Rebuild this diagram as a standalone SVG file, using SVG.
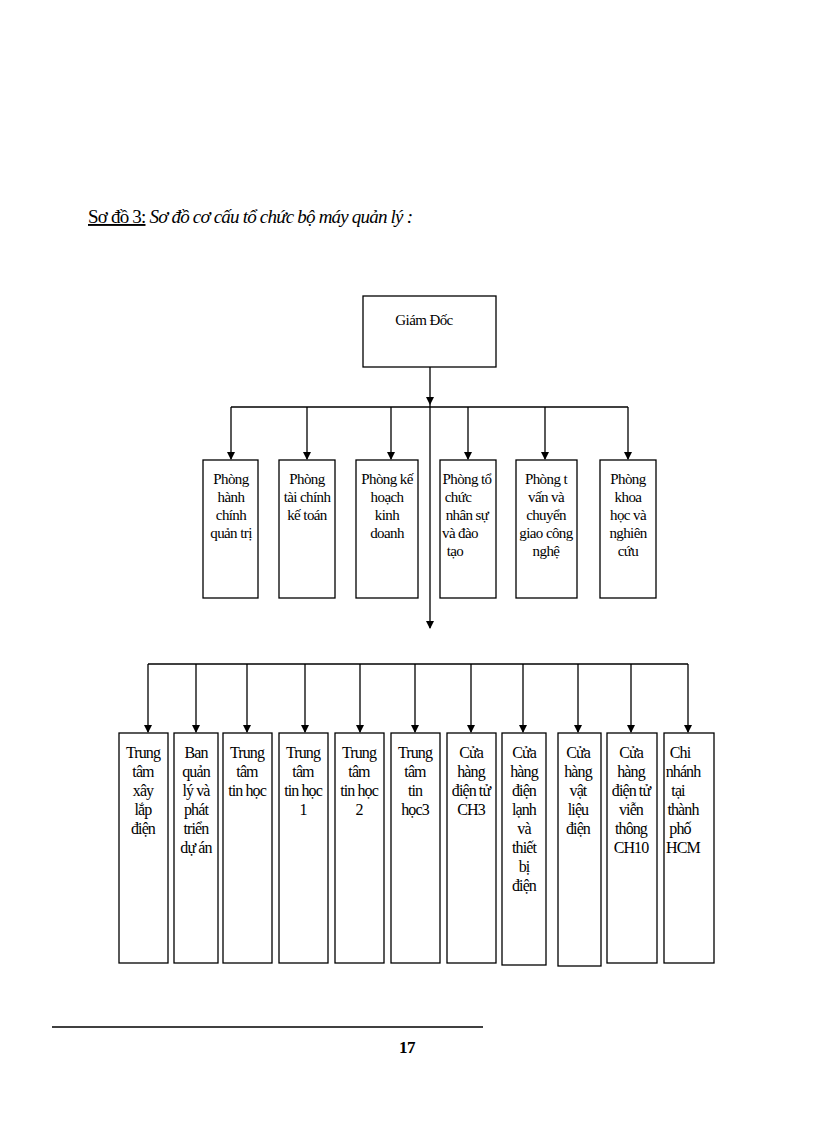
<svg xmlns="http://www.w3.org/2000/svg" width="816" height="1123" viewBox="0 0 816 1123">
<style>
rect{fill:#fff;stroke:#000;stroke-width:1.3}
line{stroke:#000;stroke-width:1.3}
text{font-family:"Liberation Serif",serif;font-size:15px;letter-spacing:-0.6px;text-anchor:middle;fill:#000}
.r2{font-size:16px;letter-spacing:-0.9px}
</style>
<defs><marker id="a" markerWidth="8" markerHeight="8" refX="7" refY="4" orient="auto" markerUnits="userSpaceOnUse"><path d="M0,0 L8,4 L0,8z" fill="#000"/></marker></defs>
<rect x="0" y="0" width="816" height="1123" style="stroke:none"/>
<text x="88" y="223" style="text-anchor:start;font-size:19px;letter-spacing:-0.8px"><tspan text-decoration="underline">Sơ đồ 3:</tspan><tspan font-style="italic"> Sơ đồ cơ cấu tổ chức bộ máy quản lý :</tspan></text>
<g id="connectors">
<line x1="430" y1="367" x2="430" y2="404" marker-end="url(#a)"/>
<line x1="430" y1="404" x2="430" y2="628" marker-end="url(#a)"/>
<line x1="231" y1="407" x2="628" y2="407"/>
<line x1="231" y1="407" x2="231" y2="459" marker-end="url(#a)"/>
<line x1="307" y1="407" x2="307" y2="459" marker-end="url(#a)"/>
<line x1="391" y1="407" x2="391" y2="459" marker-end="url(#a)"/>
<line x1="468" y1="407" x2="468" y2="459" marker-end="url(#a)"/>
<line x1="545" y1="407" x2="545" y2="459" marker-end="url(#a)"/>
<line x1="628" y1="407" x2="628" y2="459" marker-end="url(#a)"/>
<line x1="148" y1="664" x2="688" y2="664"/>
<line x1="148" y1="664" x2="148" y2="732" marker-end="url(#a)"/>
<line x1="196" y1="664" x2="196" y2="732" marker-end="url(#a)"/>
<line x1="247" y1="664" x2="247" y2="732" marker-end="url(#a)"/>
<line x1="305" y1="664" x2="305" y2="732" marker-end="url(#a)"/>
<line x1="360" y1="664" x2="360" y2="732" marker-end="url(#a)"/>
<line x1="415" y1="664" x2="415" y2="732" marker-end="url(#a)"/>
<line x1="471" y1="664" x2="471" y2="732" marker-end="url(#a)"/>
<line x1="523" y1="664" x2="523" y2="732" marker-end="url(#a)"/>
<line x1="578" y1="664" x2="578" y2="732" marker-end="url(#a)"/>
<line x1="631" y1="664" x2="631" y2="732" marker-end="url(#a)"/>
<line x1="688" y1="664" x2="688" y2="732" marker-end="url(#a)"/>
</g>
<g id="gd"><rect x="363" y="296" width="133" height="71"/><text x="424" y="325">Giám Đốc</text></g>
<g id="p1"><rect x="203" y="460" width="55" height="138"/><text x="231" y="484"><tspan x="231">Phòng</tspan><tspan x="231" dy="18">hành</tspan><tspan x="231" dy="18">chính</tspan><tspan x="231" dy="18">quản trị</tspan></text></g>
<g id="p2"><rect x="279" y="460" width="56" height="138"/><text x="307" y="484"><tspan x="307">Phòng</tspan><tspan x="307" dy="18">tài chính</tspan><tspan x="307" dy="18">kế toán</tspan></text></g>
<g id="p3"><rect x="356" y="460" width="62" height="138"/><text x="387" y="484"><tspan x="387">Phòng kế</tspan><tspan x="387" dy="18">hoạch</tspan><tspan x="387" dy="18">kinh</tspan><tspan x="387" dy="18">doanh</tspan></text></g>
<g id="p4"><rect x="440" y="460" width="56" height="138"/><text x="468" y="484"><tspan x="467">Phòng tổ</tspan><tspan x="458" dy="18">chức</tspan><tspan x="467" dy="18">nhân sự</tspan><tspan x="460" dy="18">và đào</tspan><tspan x="455" dy="18">tạo</tspan></text></g>
<g id="p5"><rect x="516" y="460" width="61" height="138"/><text x="546" y="484"><tspan x="546">Phòng t</tspan><tspan x="546" dy="18">vấn và</tspan><tspan x="546" dy="18">chuyển</tspan><tspan x="546" dy="18">giao công</tspan><tspan x="546" dy="18">nghệ</tspan></text></g>
<g id="p6"><rect x="600" y="460" width="56" height="138"/><text x="628" y="484"><tspan x="628">Phòng</tspan><tspan x="628" dy="18">khoa</tspan><tspan x="628" dy="18">học và</tspan><tspan x="628" dy="18">nghiên</tspan><tspan x="628" dy="18">cứu</tspan></text></g>
<g id="b1"><rect x="119" y="733" width="49" height="230"/><text class="r2" x="143" y="758"><tspan x="143">Trung</tspan><tspan x="143" dy="19">tâm</tspan><tspan x="143" dy="19">xây</tspan><tspan x="143" dy="19">lắp</tspan><tspan x="143" dy="19">điện</tspan></text></g>
<g id="b2"><rect x="174" y="733" width="44" height="230"/><text class="r2" x="196" y="758"><tspan x="196">Ban</tspan><tspan x="196" dy="19">quản</tspan><tspan x="196" dy="19">lý và</tspan><tspan x="196" dy="19">phát</tspan><tspan x="196" dy="19">triển</tspan><tspan x="196" dy="19">dự án</tspan></text></g>
<g id="b3"><rect x="223" y="733" width="49" height="230"/><text class="r2" x="247" y="758"><tspan x="247">Trung</tspan><tspan x="247" dy="19">tâm</tspan><tspan x="247" dy="19">tin học</tspan></text></g>
<g id="b4"><rect x="279" y="733" width="49" height="230"/><text class="r2" x="303" y="758"><tspan x="303">Trung</tspan><tspan x="303" dy="19">tâm</tspan><tspan x="303" dy="19">tin học</tspan><tspan x="303" dy="19">1</tspan></text></g>
<g id="b5"><rect x="335" y="733" width="49" height="230"/><text class="r2" x="359" y="758"><tspan x="359">Trung</tspan><tspan x="359" dy="19">tâm</tspan><tspan x="359" dy="19">tin học</tspan><tspan x="359" dy="19">2</tspan></text></g>
<g id="b6"><rect x="391" y="733" width="49" height="230"/><text class="r2" x="415" y="758"><tspan x="415">Trung</tspan><tspan x="415" dy="19">tâm</tspan><tspan x="415" dy="19">tin</tspan><tspan x="415" dy="19">học3</tspan></text></g>
<g id="b7"><rect x="447" y="733" width="49" height="230"/><text class="r2" x="471" y="758"><tspan x="471">Cửa</tspan><tspan x="471" dy="19">hàng</tspan><tspan x="471" dy="19">điện tử</tspan><tspan x="471" dy="19">CH3</tspan></text></g>
<g id="b8"><rect x="502" y="733" width="44" height="232"/><text class="r2" x="524" y="758"><tspan x="524">Cửa</tspan><tspan x="524" dy="19">hàng</tspan><tspan x="524" dy="19">điện</tspan><tspan x="524" dy="19">lạnh</tspan><tspan x="524" dy="19">và</tspan><tspan x="524" dy="19">thiết</tspan><tspan x="524" dy="19">bị</tspan><tspan x="524" dy="19">điện</tspan></text></g>
<g id="b9"><rect x="558" y="733" width="43" height="233"/><text class="r2" x="578" y="758"><tspan x="578">Cửa</tspan><tspan x="578" dy="19">hàng</tspan><tspan x="578" dy="19">vật</tspan><tspan x="578" dy="19">liệu</tspan><tspan x="578" dy="19">điện</tspan></text></g>
<g id="b10"><rect x="607" y="733" width="50" height="230"/><text class="r2" x="631" y="758"><tspan x="631">Cửa</tspan><tspan x="631" dy="19">hàng</tspan><tspan x="631" dy="19">điện tử</tspan><tspan x="631" dy="19">viễn</tspan><tspan x="631" dy="19">thông</tspan><tspan x="631" dy="19">CH10</tspan></text></g>
<g id="b11"><rect x="664" y="733" width="50" height="230"/><text class="r2" x="682" y="758"><tspan x="680">Chi</tspan><tspan x="683" dy="19">nhánh</tspan><tspan x="678" dy="19">tại</tspan><tspan x="683" dy="19">thành</tspan><tspan x="680" dy="19">phố</tspan><tspan x="683" dy="19">HCM</tspan></text></g>
<line x1="52" y1="1027" x2="483" y2="1027"/>
<text x="407" y="1053" style="font-size:17px;font-weight:bold">17</text>
</svg>
